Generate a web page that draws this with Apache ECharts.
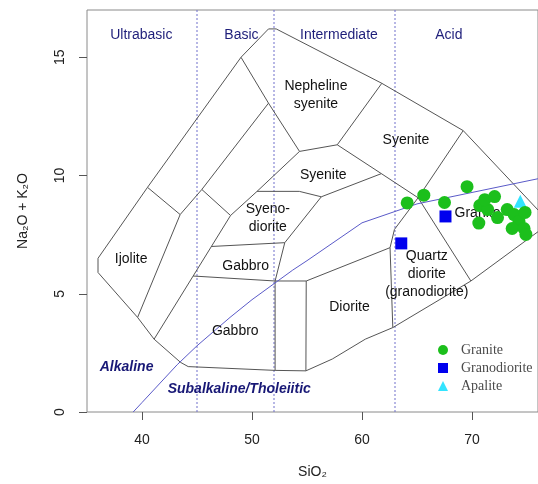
<!DOCTYPE html>
<html><head><meta charset="utf-8">
<script src="https://cdn.jsdelivr.net/npm/echarts@6/dist/echarts.min.js"></script>
<style>html,body{margin:0;padding:0;background:#fff}#c{width:538px;height:484px}</style>
</head><body><div id="c"></div>
<script>
// ---- axis ticks ----
const xTicks = [40, 50, 60, 70];
const yTicks = [0, 5, 10, 15];

// ---- sample data (SiO2, Na2O+K2O) ----
const granite = [[64.11,8.84],[65.62,9.17],[67.5,8.86],[69.55,9.53],[70.71,8.73],[71.43,8.56],[71.16,8.98],
  [72.05,9.11],[70.62,7.99],[72.32,8.22],[73.2,8.56],[73.83,8.35],[74.27,8.06],[73.65,7.76],[74.73,7.76],
  [74.82,8.44],[74.9,7.51]];
const granodiorite = [[67.59,8.27],[63.57,7.13]];
const apalite = [[74.39,8.91]];

// ---- field boundaries (data coords) ----
const outerTop = [[36.0,5.9],[36.0,6.5],[40.5,9.5],[49.0,15.0],[51.5,16.2],[52.2,16.2],[61.8,13.9],[69.2,11.9],[77.1,8.0]];
const outerBottom = [[36.0,5.9],[39.6,4.0],[41.1,3.08],[43.5,2.1],[44.2,1.92],[52.1,1.76],[54.9,1.74],[57.3,2.24],[60.3,3.08],[62.8,3.57],[69.9,5.54],[77.1,8.0]];
const ijoliteTop = [[40.5,9.5],[43.47,8.35]];
const line2 = [[39.6,4.0],[43.47,8.35],[45.44,9.41],[51.5,13.06]];
const nephLeft = [[49.0,15.0],[51.5,13.06],[54.32,11.02]];
const nephBottom = [[54.32,11.02],[57.75,11.3]];
const nephRight = [[57.75,11.3],[61.8,13.9]];
const connector2 = [[45.44,9.41],[48.05,8.31]];
const line3 = [[41.1,3.08],[48.05,8.31],[50.46,9.33],[54.32,11.02]];
const syenoTop = [[50.46,9.33],[54.3,9.33],[56.3,9.1]];
const syenoRight = [[56.3,9.1],[52.98,7.16],[52.1,5.54]];
const gabbroTop = [[46.31,7.0],[52.98,7.16]];
const gabbroBottom = [[44.65,5.75],[52.1,5.54],[54.93,5.54]];
const vert52 = [[52.1,5.54],[52.1,1.76]];
const vert55 = [[54.93,5.54],[54.9,1.74]];
const dioriteTop = [[54.93,5.54],[62.55,6.95]];
const graniteLeft = [[69.2,11.9],[65.1,9.06],[62.95,7.72],[62.55,6.95],[62.8,3.57]];
const syeniteLowRight = [[56.3,9.1],[61.76,10.08]];
const diagonal = [[57.75,11.3],[61.76,10.08],[65.1,9.06],[69.9,5.54]];
const boundaries = [outerTop, outerBottom, ijoliteTop, line2, nephLeft, nephBottom, nephRight, connector2, line3,
  syenoTop, syenoRight, gabbroTop, gabbroBottom, vert52, vert55, dioriteTop, graniteLeft, syeniteLowRight, diagonal];

// Alkaline / subalkaline divide
const alkLine = [[39.2,0],[40,0.4],[43.2,2.0],[45,2.8],[48,4],[50,4.75],[53.7,6.0],[55,6.4],[60,8],[65,8.8],[77.4,10]];
// silica class limits
const silicaLimits = [45, 52, 63];

// ---- text labels ----
const fieldNames = ['Ijolite','Gabbro','Gabbro','Syeno-\ndiorite','Syenite','Nepheline\nsyenite','Syenite','Diorite','Quartz\ndiorite\n(granodiorite)','Granite'];
const fieldX = [39.01, 49.42, 48.48, 51.44, 56.48, 55.81, 63.99, 58.86, 65.89, 70.5];
const fieldY = [6.45, 6.15, 3.4, 8.19, 10.0, 13.41, 11.51, 4.42, 5.84, 8.42];
const zoneNames = ['Ultrabasic','Basic','Intermediate','Acid'];
const zoneX = [39.94, 49.04, 57.9, 67.9];
const zoneY = [15.95, 15.95, 15.95, 15.95];
const seriesNames = ['Alkaline','Subalkaline/Tholeiitic'];
const seriesX = [38.6, 48.84];
const seriesY = [1.88, 0.97];

const FONT = '"Liberation Sans", Arial, sans-serif';
const chart = echarts.init(document.getElementById('c'), null, {renderer:'canvas', width:538, height:484});

const series = [];
boundaries.forEach(b => series.push({type:'line', data:b, symbol:'none', silent:true, animation:false, z:2,
  lineStyle:{color:'#555555', width:1}}));
silicaLimits.forEach(x => series.push({type:'line', data:[[x,0],[x,17]], symbol:'none', silent:true, z:1,
  lineStyle:{color:'#7070cc', width:1, type:[2,2]}}));
series.push({type:'line', data:alkLine, symbol:'none', silent:true, z:2, lineStyle:{color:'#5a5ac8', width:1}});

function textSeries(name, names, xs, ys, lbl) {
  return {type:'scatter', name, data:names.map((t,i)=>[xs[i],ys[i],t]), symbolSize:1, silent:true, z:3,
    itemStyle:{color:'rgba(255,255,255,0)', opacity:1},
    label:Object.assign({show:true, position:'inside', formatter:p=>p.data[2], fontSize:14, fontFamily:FONT, opacity:1}, lbl)};
}
series.push(textSeries('fields', fieldNames, fieldX, fieldY, {color:'#111', lineHeight:18, align:'center'}));
series.push(textSeries('zones', zoneNames, zoneX, zoneY, {color:'#1e1e7a'}));
series.push(textSeries('suites', seriesNames, seriesX, seriesY, {color:'#181876', fontWeight:'bold', fontStyle:'italic'}));

series.push({type:'scatter', name:'Apalite', data:apalite, symbol:'triangle', symbolSize:13, itemStyle:{color:'#33e4ff', opacity:1}, z:4});
series.push({type:'scatter', name:'Granite', data:granite, symbol:'circle', symbolSize:13, itemStyle:{color:'#1cbf1c', opacity:1}, z:5});
series.push({type:'scatter', name:'Granodiorite', data:granodiorite, symbol:'rect', symbolSize:12, itemStyle:{color:'#0000ee', opacity:1}, z:6});

chart.setOption({
  animation:false,
  backgroundColor:'#fff',
  grid:{left:87, top:10, width:459, height:403, show:true, borderColor:'#8a8a8a', borderWidth:1},
  legend:{
    data:[{name:'Granite', icon:'circle'},{name:'Granodiorite', icon:'rect'},{name:'Apalite', icon:'triangle'}],
    orient:'vertical', left:433, top:338, itemWidth:10, itemHeight:10, itemGap:4,
    textStyle:{fontFamily:'"Liberation Serif", "Times New Roman", serif', fontSize:14, color:'#4a4a4a', lineHeight:14, padding:[0,0,0,8]}
  },
  xAxis:{type:'value', min:35, max:76, splitLine:{show:false}, axisLine:{show:false},
    axisTick:{show:true, length:8, customValues:xTicks, lineStyle:{color:'#555'}},
    axisLabel:{customValues:xTicks, margin:21, fontSize:14, color:'#222', fontFamily:FONT},
    name:'SiO₂', nameLocation:'middle', nameGap:53, nameTextStyle:{fontSize:14, color:'#222', fontFamily:FONT}},
  yAxis:{type:'value', min:0, max:17, splitLine:{show:false}, axisLine:{show:false},
    axisTick:{show:true, length:8, customValues:yTicks, lineStyle:{color:'#555'}},
    axisLabel:{customValues:yTicks, margin:20, rotate:90, fontSize:14, color:'#222', fontFamily:FONT},
    name:'Na₂O + K₂O', nameLocation:'middle', nameGap:57, nameTextStyle:{fontSize:14, color:'#222', fontFamily:FONT}},
  series
});
</script></body></html>
